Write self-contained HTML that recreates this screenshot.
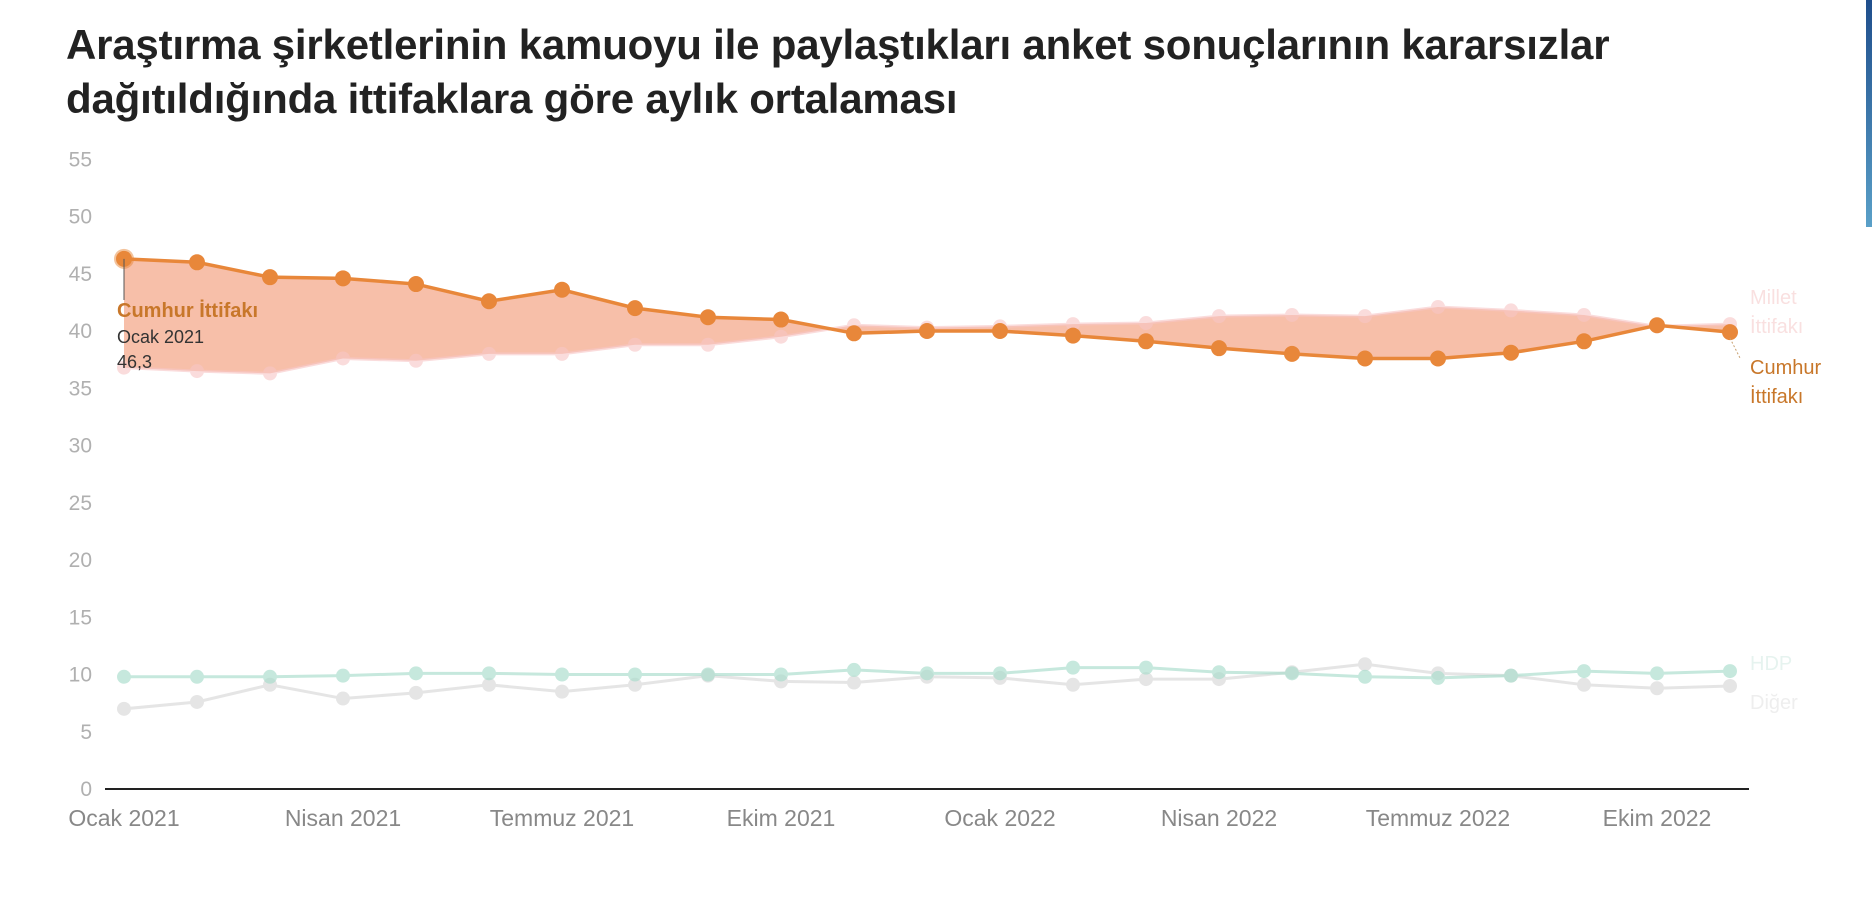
<!DOCTYPE html>
<html><head><meta charset="utf-8"><style>
body{margin:0;width:1872px;height:900px;background:#fff;overflow:hidden;font-family:"Liberation Sans",sans-serif;position:relative}
h1{position:absolute;left:66px;top:18px;margin:0;font-size:42px;line-height:54px;font-weight:bold;color:#222;letter-spacing:-0.2px}
#bar{position:absolute;right:0;top:0;width:6px;height:227px;background:linear-gradient(#1f4e8c,#5aa0c8)}
</style></head><body>
<h1>Araştırma şirketlerinin kamuoyu ile paylaştıkları anket sonuçlarının kararsızlar<br>dağıtıldığında ittifaklara göre aylık ortalaması</h1>
<div id="bar"></div>
<svg id="s" width="1872" height="900" style="position:absolute;left:0;top:0"></svg>
<script>
const C=[46.3,46.0,44.7,44.6,44.1,42.6,43.6,42.0,41.2,41.0,39.8,40.0,40.0,39.6,39.1,38.5,38.0,37.6,37.6,38.1,39.1,40.5,39.9];
const M=[36.8,36.5,36.3,37.6,37.4,38.0,38.0,38.8,38.8,39.5,40.5,40.3,40.4,40.6,40.7,41.3,41.4,41.3,42.1,41.8,41.4,40.4,40.6];
const H=[9.8,9.8,9.8,9.9,10.1,10.1,10.0,10.0,10.0,10.0,10.4,10.1,10.1,10.6,10.6,10.2,10.1,9.8,9.7,9.9,10.3,10.1,10.3];
const D=[7.0,7.6,9.1,7.9,8.4,9.1,8.5,9.1,9.9,9.4,9.3,9.8,9.7,9.1,9.6,9.6,10.2,10.9,10.1,9.9,9.1,8.8,9.0];
const X=i=>124+i*73.0, Y=v=>789-v*11.45;
let s='';
for(let v=0;v<=55;v+=5)s+=`<text x="92" y="${Y(v)+7}" font-size="21" fill="#b0b0b0" text-anchor="end">${v}</text>`;
s+=`<line x1="105" y1="789" x2="1749" y2="789" stroke="#222" stroke-width="2"/>`;
const lab=[[0,'Ocak 2021'],[3,'Nisan 2021'],[6,'Temmuz 2021'],[9,'Ekim 2021'],[12,'Ocak 2022'],[15,'Nisan 2022'],[18,'Temmuz 2022'],[21,'Ekim 2022']];
lab.forEach(([i,t])=>s+=`<text x="${X(i)}" y="826" font-size="23" fill="#888" text-anchor="middle">${t}</text>`);
let poly=C.map((v,i)=>X(i)+','+Y(v)).join(' ')+' '+M.map((v,i)=>X(i)+','+Y(v)).reverse().join(' ');
s+=`<polygon points="${poly}" fill="#f4a98c" opacity="0.75"/>`;
const line=(a,c,w,r,op)=>{let p=a.map((v,i)=>X(i)+','+Y(v)).join(' ');let o=`<g opacity="${op}"><polyline points="${p}" fill="none" stroke="${c}" stroke-width="${w}"/>`;a.forEach((v,i)=>o+=`<circle cx="${X(i)}" cy="${Y(v)}" r="${r}" fill="${c}"/>`);return o+'</g>';};
s+=line(D,'#d8d8d8',3,7,0.65);
s+=line(H,'#a8dccb',3,7,0.65);
s+=line(M,'#f7c6c6',3,7,0.6);
s+=line(C,'#e8873a',3.5,8,1);
s+=`<circle cx="${X(0)}" cy="${Y(46.3)}" r="10" fill="#e8873a" opacity="0.5"/>`;
s+=`<line x1="124" y1="${Y(46.3)}" x2="124" y2="300" stroke="#555" stroke-width="1"/>`;
s+=`<text x="117" y="317" font-size="20" font-weight="bold" fill="#c8772a">Cumhur İttifakı</text>`;
s+=`<text x="117" y="343" font-size="18" fill="#333">Ocak 2021</text><text x="117" y="368" font-size="18" fill="#333">46,3</text>`;
s+=`<text x="1750" y="304" font-size="20" fill="#f9e0e0">Millet</text><text x="1750" y="333" font-size="20" fill="#f9e0e0">İttifakı</text>`;
s+=`<line x1="1730" y1="${Y(39.9)+6}" x2="1740" y2="358" stroke="#c8a070" stroke-dasharray="2,2"/>`;
s+=`<text x="1750" y="374" font-size="20" fill="#c8772a">Cumhur</text><text x="1750" y="403" font-size="20" fill="#c8772a">İttifakı</text>`;
s+=`<text x="1750" y="670" font-size="20" fill="#e6f3ef">HDP</text><text x="1750" y="709" font-size="20" fill="#eeeeee">Diğer</text>`;
document.getElementById('s').innerHTML=s;
</script>
</body></html>
